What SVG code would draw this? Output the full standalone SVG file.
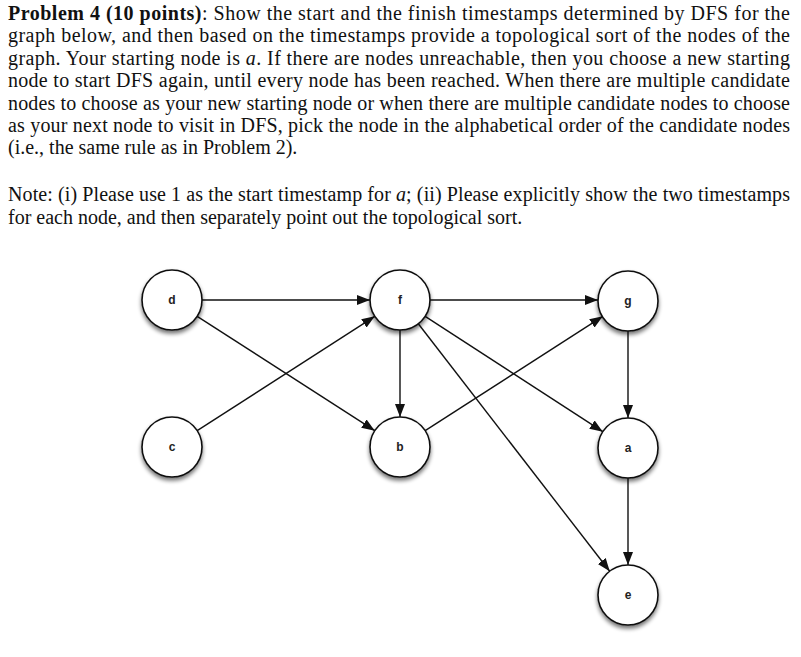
<svg xmlns="http://www.w3.org/2000/svg" width="801" height="657" viewBox="0 0 801 657">
<style>
.t{font-family:"Liberation Serif","Times New Roman",serif;font-size:20px;fill:#111}
.lbl{font-family:"Liberation Sans",Arial,sans-serif;font-size:12px;font-weight:bold;fill:#222;text-anchor:middle}
.node{fill:#fff;stroke:#111;stroke-width:1.6}
.edge{stroke:#111;stroke-width:1.4;fill:none;marker-end:url(#arr)}
</style>
<defs>
<marker id="arr" markerUnits="userSpaceOnUse" markerWidth="14" markerHeight="11" refX="13" refY="5" orient="auto">
<path d="M0,0 L13,5 L0,10 z" fill="#111"/>
</marker>
<filter id="sh" x="-30%" y="-30%" width="160%" height="170%">
<feGaussianBlur in="SourceAlpha" stdDeviation="2.2"/>
<feOffset dx="0" dy="3" result="b"/>
<feComponentTransfer><feFuncA type="linear" slope="0.55"/></feComponentTransfer>
<feMerge><feMergeNode/><feMergeNode in="SourceGraphic"/></feMerge>
</filter>
</defs>
<rect width="801" height="657" fill="#fff"/>
<g id="text">
<text class="t" x="8" y="20" textLength="782" lengthAdjust="spacing"><tspan font-weight="bold">Problem 4 (10 points)</tspan>: Show the start and the finish timestamps determined by DFS for the</text>
<text class="t" x="8" y="42.4" textLength="782" lengthAdjust="spacing">graph below, and then based on the timestamps provide a topological sort of the nodes of the</text>
<text class="t" x="8" y="64.8" textLength="782" lengthAdjust="spacing">graph.  Your starting node is <tspan font-style="italic">a</tspan>.  If there are nodes unreachable, then you choose a new starting</text>
<text class="t" x="8" y="87.2" textLength="782" lengthAdjust="spacing">node to start DFS again, until every node has been reached.  When there are multiple candidate</text>
<text class="t" x="8" y="109.6" textLength="782" lengthAdjust="spacing">nodes to choose as your new starting node or when there are multiple candidate nodes to choose</text>
<text class="t" x="8" y="132" textLength="782" lengthAdjust="spacing">as your next node to visit in DFS, pick the node in the alphabetical order of the candidate nodes</text>
<text class="t" x="8" y="154.4">(i.e., the same rule as in Problem 2).</text>
<text class="t" x="8" y="201" textLength="782" lengthAdjust="spacing">Note: (i) Please use 1 as the start timestamp for <tspan font-style="italic">a</tspan>; (ii) Please explicitly show the two timestamps</text>
<text class="t" x="8" y="223.5">for each node, and then separately point out the topological sort.</text>
</g>
<g id="connectors">
<line class="edge" x1="202" y1="300" x2="370" y2="300"/>
<line class="edge" x1="197.2" y1="316.3" x2="374.8" y2="430.7"/>
<line class="edge" x1="197.2" y1="430.7" x2="374.8" y2="316.3"/>
<line class="edge" x1="400" y1="330" x2="400" y2="417"/>
<line class="edge" x1="430" y1="300" x2="598" y2="300"/>
<line class="edge" x1="425.2" y1="316.3" x2="602.8" y2="431.7"/>
<line class="edge" x1="418.3" y1="323.7" x2="609.7" y2="571.3"/>
<line class="edge" x1="425.2" y1="430.7" x2="602.8" y2="316.3"/>
<line class="edge" x1="628" y1="330" x2="628" y2="418"/>
<line class="edge" x1="628" y1="478" x2="628" y2="565"/>
</g>
<g id="node-d"><circle class="node" cx="172" cy="300" r="30" filter="url(#sh)"/><text class="lbl" x="172" y="304">d</text></g>
<g id="node-f"><circle class="node" cx="400" cy="300" r="30" filter="url(#sh)"/><text class="lbl" x="400" y="304">f</text></g>
<g id="node-g"><circle class="node" cx="628" cy="301" r="30" filter="url(#sh)"/><text class="lbl" x="628" y="305">g</text></g>
<g id="node-c"><circle class="node" cx="172" cy="447" r="30" filter="url(#sh)"/><text class="lbl" x="172" y="451">c</text></g>
<g id="node-b"><circle class="node" cx="400" cy="447" r="30" filter="url(#sh)"/><text class="lbl" x="400" y="451">b</text></g>
<g id="node-a"><circle class="node" cx="628" cy="448" r="30" filter="url(#sh)"/><text class="lbl" x="628" y="452">a</text></g>
<g id="node-e"><circle class="node" cx="628" cy="595" r="30" filter="url(#sh)"/><text class="lbl" x="628" y="599">e</text></g>
</svg>
